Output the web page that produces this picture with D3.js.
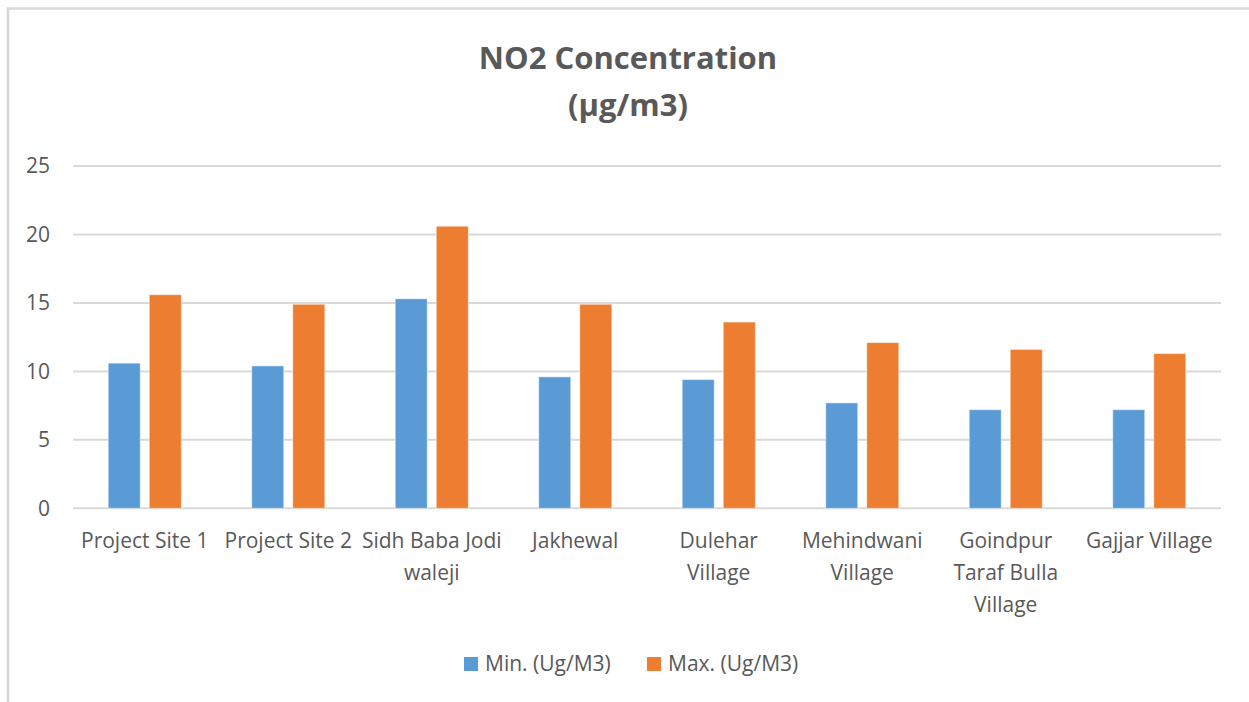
<!DOCTYPE html>
<html><head><meta charset="utf-8">
<script src="https://cdn.jsdelivr.net/npm/d3@7"></script>
<style>
html,body{margin:0;padding:0;background:#fff;}
svg{display:block;}
text{font-family:"Liberation Sans Narrow","Open Sans",sans-serif;}
</style></head>
<body><svg id="c" width="1249" height="702"></svg>
<script>
const categories = ["Project Site 1","Project Site 2","Sidh Baba Jodi waleji","Jakhewal","Dulehar Village","Mehindwani Village","Goindpur Taraf Bulla Village","Gajjar Village"];
const categoryLines = [["Project Site 1"],["Project Site 2"],["Sidh Baba Jodi","waleji"],["Jakhewal"],["Dulehar","Village"],["Mehindwani","Village"],["Goindpur","Taraf Bulla","Village"],["Gajjar Village"]];
const minValues = [10.6,10.4,15.3,9.6,9.4,7.7,7.2,7.2];
const maxValues = [15.6,14.9,20.6,14.9,13.6,12.1,11.6,11.3];
const seriesNames = ["Min. (Ug/M3)","Max. (Ug/M3)"];
const seriesColors = ["#5B9BD5","#ED7D31"];
const yTicks = [0,5,10,15,20,25];
const titleLines = ["NO2 Concentration","(µg/m3)"];

const svg = d3.select("#c");
// outer chart border
svg.append("rect").attr("x",8).attr("y",8.5).attr("width",1400).attr("height",900)
  .attr("fill","#fff").attr("stroke","#D9D9D9").attr("stroke-width",2.5);

const pLeft=73, pRight=1221, pTop=166, pBottom=508.3;
const x = d3.scaleBand().domain(categories).range([pLeft,pRight]).padding(0);
const y = d3.scaleLinear().domain([0,25]).range([pBottom,pTop]);

// gridlines
svg.append("g").selectAll("line").data(yTicks).join("line")
  .attr("x1",pLeft).attr("x2",pRight).attr("y1",d=>y(d)).attr("y2",d=>y(d))
  .attr("stroke","#D9D9D9").attr("stroke-width",2);

// y axis labels
const yAxis = d3.axisLeft(y).tickValues(yTicks).tickSize(0).tickPadding(0);
const ya = svg.append("g").attr("transform",`translate(${pLeft-23},0)`).call(yAxis);
ya.select(".domain").remove();
ya.selectAll("text").attr("fill","#595959").style("font-size","21px")
  .style("font-family",'"Liberation Sans Narrow","Open Sans",sans-serif');

// bars
const bw = x.step()*0.223, gap = x.step()*0.063;
const series = [minValues,maxValues];
series.forEach((vals,si)=>{
  svg.append("g").selectAll("rect").data(vals).join("rect")
    .attr("x",(d,i)=>x(categories[i])+x.step()/2 + (si===0 ? -gap/2-bw : gap/2))
    .attr("y",d=>y(d)).attr("width",bw).attr("height",d=>y(0)-y(d))
    .attr("fill",seriesColors[si]).attr("stroke","#fff").attr("stroke-opacity",0.45).attr("stroke-width",1);
});

// category labels
const cl = svg.append("g");
categories.forEach((c,i)=>{
  const t = cl.append("text").attr("text-anchor","middle").attr("fill","#595959")
    .style("font-size","21px");
  categoryLines[i].forEach((ln,j)=>{
    t.append("tspan").attr("x",x(c)+x.step()/2).attr("y",548+j*32).text(ln);
  });
});

// title
titleLines.forEach((ln,j)=>{
  svg.append("text").attr("x",628).attr("y",69+j*47).attr("text-anchor","middle")
    .attr("fill","#595959").style("font-size","31px").style("font-weight","bold")
    .style("font-family",'"Liberation Sans Narrow","Open Sans",sans-serif').text(ln);
});

// legend
const legX = [464,647];
seriesNames.forEach((n,i)=>{
  svg.append("rect").attr("x",legX[i]).attr("y",657).attr("width",14).attr("height",14).attr("fill",seriesColors[i]);
  svg.append("text").attr("x",legX[i]+21).attr("y",671).attr("fill","#595959")
    .style("font-size","21px").text(n);
});
</script></body></html>
